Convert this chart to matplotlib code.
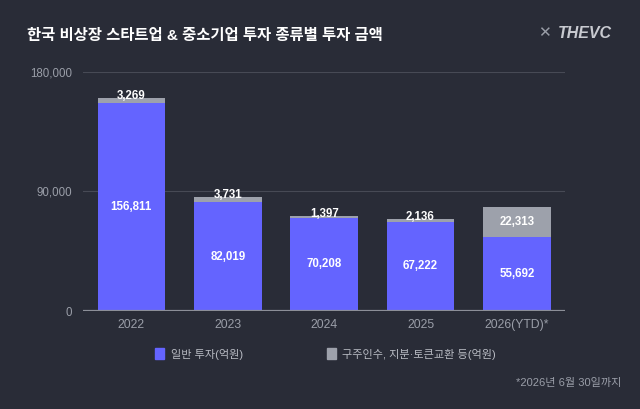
import numpy as np
import matplotlib

matplotlib.use("Agg")
import matplotlib.pyplot as plt
from matplotlib.patches import Rectangle

plt.rcParams["font.family"] = ["Liberation Sans", "Noto Sans CJK KR", "DejaVu Sans"]

years = ["2022", "2023", "2024", "2025", "2026(YTD)*"]
general = [156811, 82019, 70208, 67222, 55692]
other = [3269, 3731, 1397, 2136, 22313]
yticks = [0, 90000, 180000]

BG = "#292c37"
BLUE = "#6464ff"
GRAY = "#9da1ab"
TICK = "#9a9ea8"

fig = plt.figure(figsize=(6.4, 4.09), dpi=100, facecolor=BG)
ax = fig.add_axes([0.13, 0.2396, 0.753, 0.5844], facecolor=BG)

x = np.arange(len(years))
w = 0.7
ax.bar(x, general, w, color=BLUE, zorder=3)
ax.bar(x, other, w, bottom=general, color=GRAY, zorder=3)

ymax = 180000
min_inside = 12000
for xi, g, o in zip(x, general, other):
    ax.text(xi, g / 2, f"{g:,}", ha="center", va="center", color="white",
            fontsize=8.3, fontweight="bold", zorder=4)
    if o >= min_inside:
        ax.text(xi, g + o / 2, f"{o:,}", ha="center", va="center", color="white",
                fontsize=8.3, fontweight="bold", zorder=4)
    else:
        # small segment: label sits on the bar top
        ax.text(xi, g + o + 1500, f"{o:,}", ha="center", va="center", color="white",
                fontsize=8.3, fontweight="bold", zorder=4)

ax.set_xlim(-0.5, len(years) - 0.5)
ax.set_ylim(0, ymax)
ax.set_yticks(yticks)
ax.set_yticklabels([f"{v:,}" for v in yticks])
ax.set_xticks(x)
ax.set_xticklabels(years)
ax.tick_params(axis="both", length=0, colors=TICK)
ax.tick_params(axis="y", pad=8, labelsize=8.3)
ax.tick_params(axis="x", pad=6, labelsize=8.8)
for s in ax.spines.values():
    s.set_visible(False)
ax.grid(axis="y", color="#474a55", lw=0.8, zorder=0)
ax.axhline(0, color="#8c8f98", lw=1.6, zorder=5)

# title and logo
fig.text(27 / 640, 1 - 36 / 409, "한국 비상장 스타트업 & 중소기업 투자 종류별 투자 금액",
         color="white", fontsize=11.1, fontweight="bold", va="center", ha="left")
fig.text(612 / 640, 1 - 33 / 409, "THEVC", color="#c8cad0", fontsize=11.5,
         fontweight="bold", fontstyle="italic", va="center", ha="right")
fig.text(544 / 640, 1 - 33 / 409, "✕", color="#9a9ea8", fontsize=11,
         va="center", ha="center", family=["DejaVu Sans"])

# legend
fig.patches.append(Rectangle((155 / 640, 1 - 359 / 409), 9 / 640, 11 / 409,
                             transform=fig.transFigure, color=BLUE))
fig.text(171 / 640, 1 - 354 / 409, "일반 투자(억원)", color="#b8bbc3",
         fontsize=8, va="center", ha="left")
fig.patches.append(Rectangle((327 / 640, 1 - 359 / 409), 9 / 640, 11 / 409,
                             transform=fig.transFigure, color=GRAY))
fig.text(342 / 640, 1 - 354 / 409, "구주인수, 지분·토큰교환 등(억원)", color="#b8bbc3",
         fontsize=8, va="center", ha="left")

fig.text(621 / 640, 1 - 383 / 409, "*2026년 6월 30일까지", color="#9a9ea8",
         fontsize=8, va="center", ha="right")

fig.savefig("out.png", dpi=100, facecolor=BG)
